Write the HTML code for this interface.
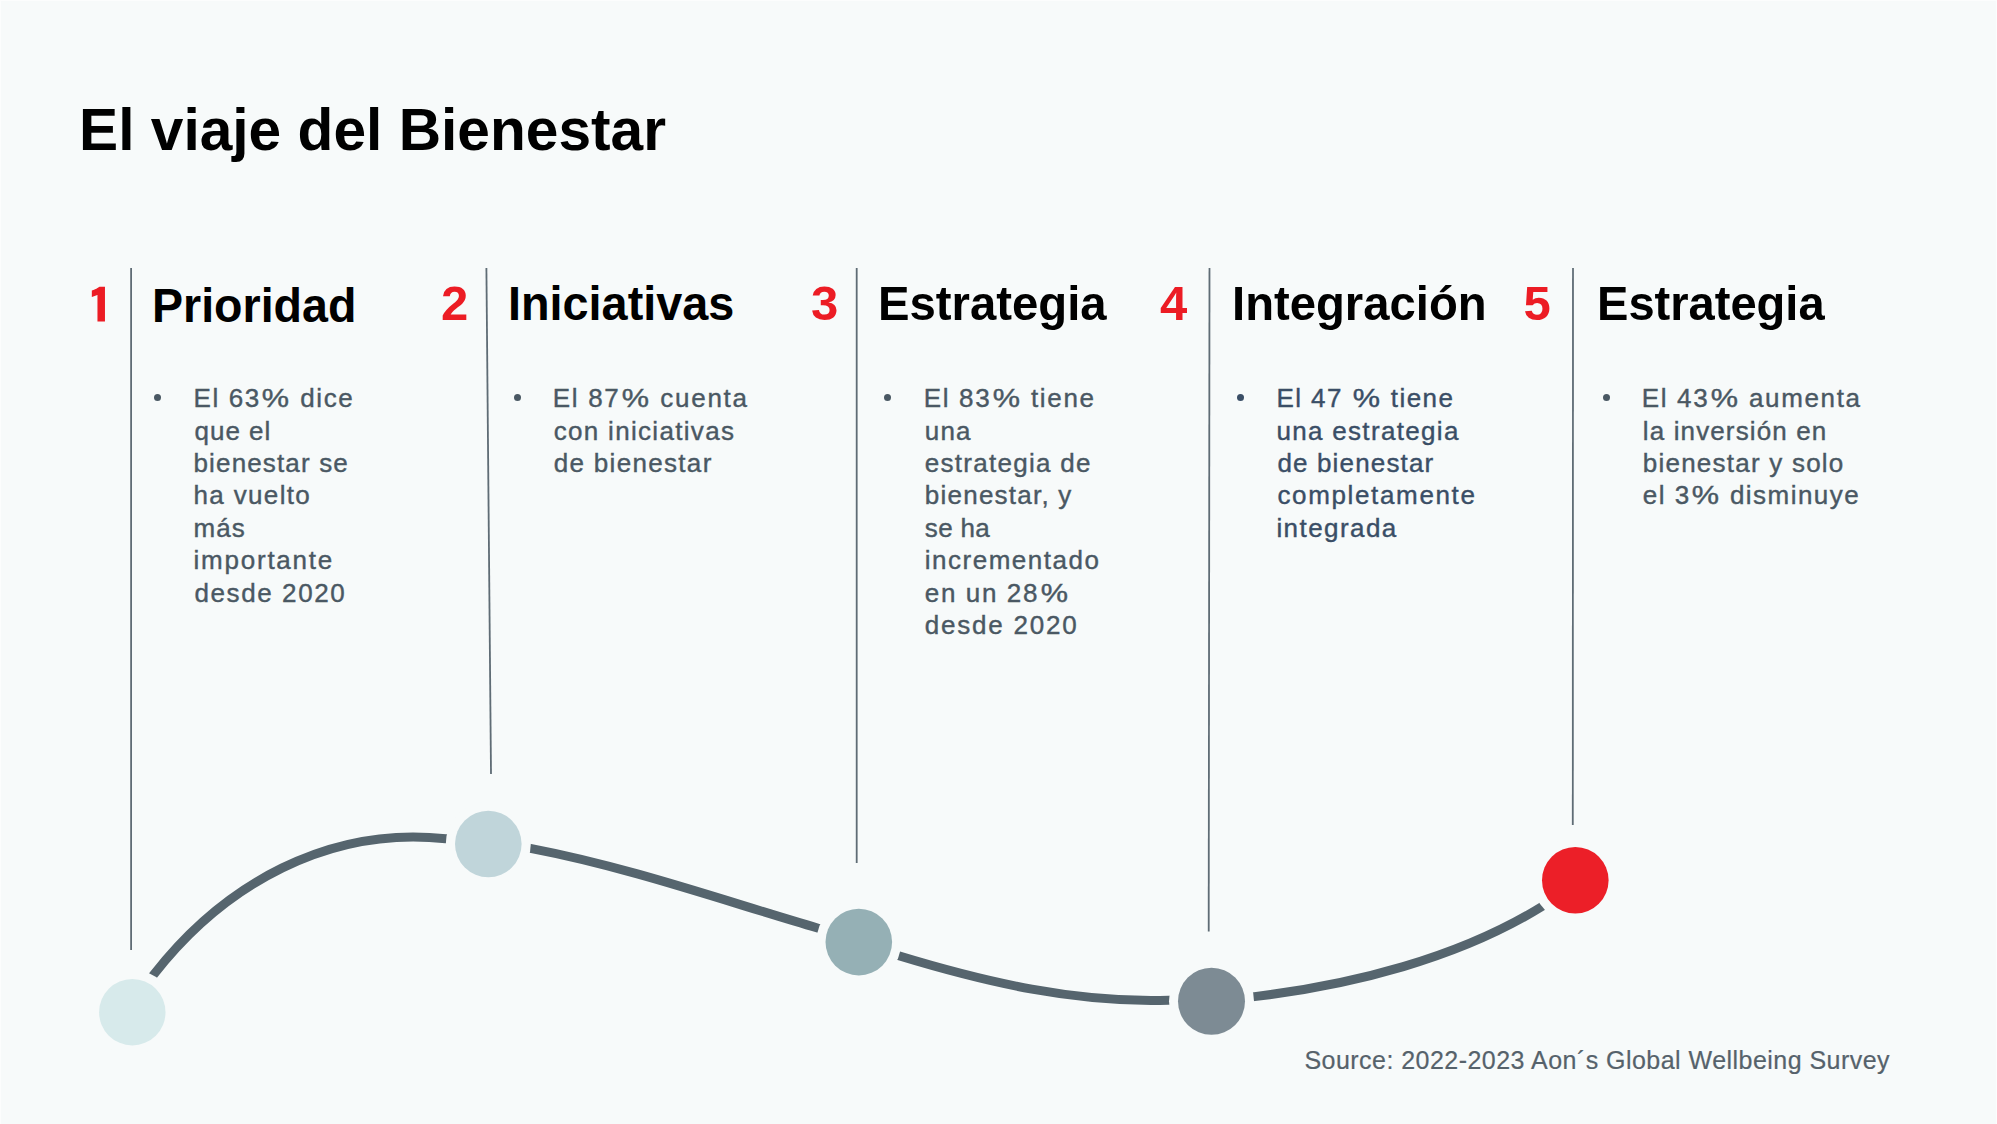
<!DOCTYPE html>
<html><head><meta charset="utf-8"><title>El viaje del Bienestar</title>
<style>
html,body{margin:0;padding:0;}
body{width:1997px;height:1124px;background:#f7fafa;position:relative;overflow:hidden;font-family:"Liberation Sans",Arial,Helvetica,sans-serif;}
div{position:absolute;white-space:nowrap;line-height:1;}
.h1{font-size:60px;font-weight:700;color:#000;transform-origin:0 0;}
.n{font-size:49px;font-weight:700;color:#ec1c24;}
.tt{font-size:49px;font-weight:700;color:#000;transform-origin:0 0;}
.one{transform:scaleX(1.17);transform-origin:50% 0;font-family:"IPAGothic",sans-serif;font-size:46.0px;-webkit-text-stroke:1.2px #ec1c24;}
.b{font-size:26px;-webkit-text-stroke:0.4px currentColor;}
.pc{display:inline-block;transform:scaleX(1.18);margin-left:3.5px;margin-right:2.5px;}
.bu{width:7px;height:7px;border-radius:50%;}
.src{font-size:25px;color:#56626b;-webkit-text-stroke:0.2px currentColor;}
svg{position:absolute;left:0;top:0;}
</style></head><body>
<svg width="1997" height="1124" viewBox="0 0 1997 1124">
<g stroke="#5f6c75" stroke-width="1.8" fill="none">
<line x1="131.1" y1="268" x2="131.1" y2="950"/>
<line x1="486.4" y1="268" x2="491" y2="774"/>
<line x1="856.7" y1="268" x2="856.7" y2="863"/>
<line x1="1209.5" y1="268" x2="1208.7" y2="931.5"/>
<line x1="1573" y1="268" x2="1572.8" y2="825"/>
</g>
<path d="M150.1 979.2 L153.8 974.5 C224.3 884.0 328.7 825.9 445.8 838.7 L451.8 839.3 M524.5 847.3 L530.4 848.4 C628.1 867.0 722.2 900.1 817.4 928.0 L823.2 929.7 M893.1 954.1 L898.8 955.8 C987.0 982.6 1075.6 1003.1 1168.4 1000.2 L1174.4 1000.0 M1248.6 997.3 L1254.5 996.6 C1351.2 985.2 1458.6 958.2 1542.0 906.5 L1547.1 903.4" stroke="#56656e" stroke-width="9" fill="none"/>
<g fill="#f7fafa">
<circle cx="132.3" cy="1012.2" r="42.5"/>
<circle cx="488.3" cy="844" r="42.5"/>
<circle cx="858.8" cy="942.1" r="42.5"/>
<circle cx="1211.5" cy="1001.3" r="42.5"/>
<circle cx="1575.3" cy="880.3" r="42.5"/>
</g>
<circle cx="132.3" cy="1012.2" r="33.2" fill="#d7eaeb"/>
<circle cx="488.3" cy="844" r="33.3" fill="#c0d5da"/>
<circle cx="858.8" cy="942.1" r="33.3" fill="#95b0b5"/>
<circle cx="1211.5" cy="1001.3" r="33.5" fill="#7d8b94"/>
<circle cx="1575.3" cy="880.3" r="33.3" fill="#ec1f28"/>
</svg>

<div class="h1" style="left:79.21px;top:100.3px;transform:scaleX(0.9780)">El viaje del Bienestar</div>
<div class="n one" style="left:88.6px;top:281.52px">1</div>
<div class="tt" style="left:152.02px;top:280.52px;transform:scaleX(0.9502)">Prioridad</div>
<div class="n" style="left:441.0px;top:278.52px">2</div>
<div class="tt" style="left:508.0px;top:278.52px;transform:scaleX(0.9550)">Iniciativas</div>
<div class="n" style="left:811.0px;top:278.52px">3</div>
<div class="tt" style="left:878.19px;top:278.52px;transform:scaleX(0.9648)">Estrategia</div>
<div class="n" style="left:1160.0px;top:278.52px">4</div>
<div class="tt" style="left:1231.84px;top:278.52px;transform:scaleX(0.9642)">Integración</div>
<div class="n" style="left:1523.5px;top:278.52px">5</div>
<div class="tt" style="left:1597.41px;top:278.52px;transform:scaleX(0.9605)">Estrategia</div>
<div class="bu" style="left:153.7px;top:394.0px;background:#4a5863"></div>
<div class="b" style="left:193.50px;top:385.29px;letter-spacing:1.600px;color:#4a5863">El 63<span class="pc">%</span> dice</div>
<div class="b" style="left:194.50px;top:417.69px;letter-spacing:1.000px;color:#4a5863">que el</div>
<div class="b" style="left:193.50px;top:450.09px;letter-spacing:1.145px;color:#4a5863">bienestar se</div>
<div class="b" style="left:193.50px;top:482.49px;letter-spacing:1.350px;color:#4a5863">ha vuelto</div>
<div class="b" style="left:193.50px;top:514.89px;letter-spacing:1.100px;color:#4a5863">más</div>
<div class="b" style="left:193.50px;top:547.29px;letter-spacing:1.773px;color:#4a5863">importante</div>
<div class="b" style="left:194.50px;top:579.69px;letter-spacing:1.588px;color:#4a5863">desde 2020</div>
<div class="bu" style="left:514.4px;top:393.9px;background:#4a5863"></div>
<div class="b" style="left:552.70px;top:385.29px;letter-spacing:1.719px;color:#4a5863">El 87<span class="pc">%</span> cuenta</div>
<div class="b" style="left:553.70px;top:417.69px;letter-spacing:1.316px;color:#4a5863">con iniciativas</div>
<div class="b" style="left:553.70px;top:450.09px;letter-spacing:1.320px;color:#4a5863">de bienestar</div>
<div class="bu" style="left:883.8px;top:393.8px;background:#4a5863"></div>
<div class="b" style="left:923.80px;top:385.29px;letter-spacing:1.650px;color:#4a5863">El 83<span class="pc">%</span> tiene</div>
<div class="b" style="left:924.80px;top:417.69px;letter-spacing:1.200px;color:#4a5863">una</div>
<div class="b" style="left:924.80px;top:450.09px;letter-spacing:1.268px;color:#4a5863">estrategia de</div>
<div class="b" style="left:924.80px;top:482.49px;letter-spacing:1.234px;color:#4a5863">bienestar, y</div>
<div class="b" style="left:924.80px;top:514.89px;letter-spacing:0.350px;color:#4a5863">se ha</div>
<div class="b" style="left:924.80px;top:547.29px;letter-spacing:1.509px;color:#4a5863">incrementado</div>
<div class="b" style="left:924.80px;top:579.69px;letter-spacing:1.625px;color:#4a5863">en un 28<span class="pc">%</span></div>
<div class="b" style="left:924.80px;top:612.09px;letter-spacing:1.773px;color:#4a5863">desde 2020</div>
<div class="bu" style="left:1237.0px;top:394.3px;background:#3a4e66"></div>
<div class="b" style="left:1276.40px;top:385.29px;letter-spacing:1.445px;color:#3a4e66">El 47 <span class="pc">%</span> tiene</div>
<div class="b" style="left:1276.40px;top:417.69px;letter-spacing:1.320px;color:#3a4e66">una estrategia</div>
<div class="b" style="left:1277.40px;top:450.09px;letter-spacing:1.154px;color:#3a4e66">de bienestar</div>
<div class="b" style="left:1277.40px;top:482.49px;letter-spacing:1.648px;color:#3a4e66">completamente</div>
<div class="b" style="left:1276.40px;top:514.89px;letter-spacing:1.439px;color:#3a4e66">integrada</div>
<div class="bu" style="left:1602.7px;top:394.1px;background:#4a5863"></div>
<div class="b" style="left:1641.80px;top:385.29px;letter-spacing:1.648px;color:#4a5863">El 43<span class="pc">%</span> aumenta</div>
<div class="b" style="left:1642.80px;top:417.69px;letter-spacing:1.129px;color:#4a5863">la inversión en</div>
<div class="b" style="left:1642.80px;top:450.09px;letter-spacing:1.228px;color:#4a5863">bienestar y solo</div>
<div class="b" style="left:1642.80px;top:482.49px;letter-spacing:1.470px;color:#4a5863">el 3<span class="pc">%</span> disminuye</div>
<div class="src" style="left:1304.4px;top:1048.04px;letter-spacing:0.466px">Source: 2022-2023 Aon´s Global Wellbeing Survey</div>
<div class="edge" style="left:0;top:0;width:1997px;height:1px;background:#fcfdfd"></div>
<div class="edge" style="left:0;top:0;width:1px;height:1124px;background:#fcfdfd"></div>
<div class="edge" style="left:1996px;top:0;width:1px;height:1124px;background:#fcfdfd"></div>
</body></html>
